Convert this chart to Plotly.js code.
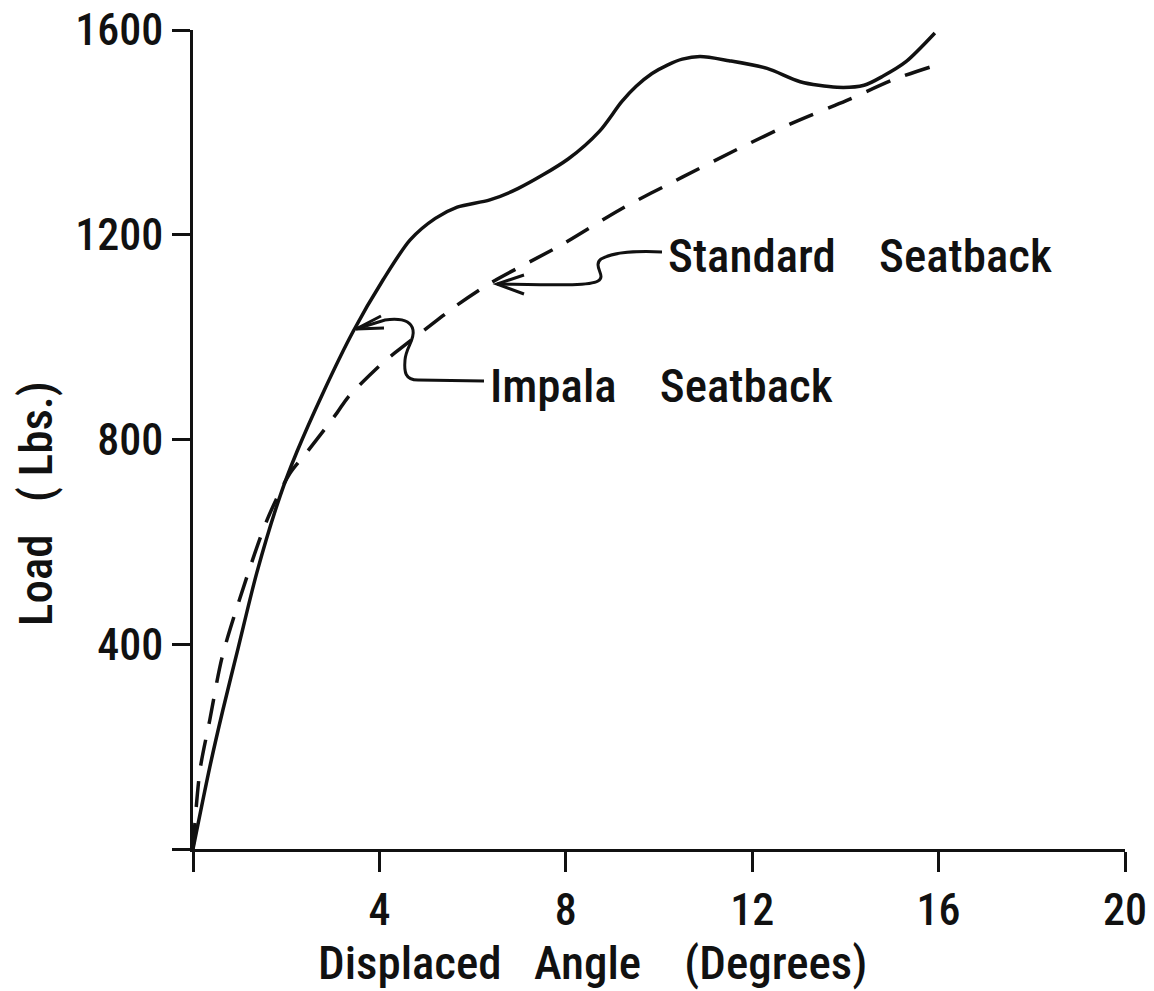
<!DOCTYPE html>
<html>
<head>
<meta charset="utf-8">
<script src="https://cdn.plot.ly/plotly-3.0.1.min.js"></script>
<style>html,body{margin:0;padding:0;background:#fff;}#chart{width:1154px;height:991px;}</style>
</head>
<body>
<div id="chart"></div>
<script>
// ---- Data ----
const angleImpala = [0, 0.36, 0.64, 0.97, 1.37, 1.87, 2.23, 2.79, 3.43, 4.08, 4.66, 5.2, 5.67, 6.37, 6.97, 8.05, 8.73, 9.2, 9.51, 9.85, 10.19, 10.5, 10.88, 11.5, 12.32, 13.03, 13.82, 14.4, 14.81, 15.3, 15.92];
const loadImpala  = [0, 160, 271, 393, 540, 690, 776, 891, 1010, 1112, 1190, 1232, 1254, 1268, 1290, 1348, 1403, 1460, 1490, 1515, 1532, 1543, 1548, 1540, 1525, 1499, 1488, 1492, 1510, 1538, 1594];

const angleStandard = [0, 0.15, 0.36, 0.62, 1.0, 1.59, 2.08, 2.45, 3.09, 3.33, 4.06, 4.33, 5.24, 5.58, 6.37, 7.9, 9.18, 10.49, 11.66, 12.86, 14.02, 15.06, 15.97];
const loadStandard  = [0, 154, 252, 373, 488, 643, 734, 776, 852, 883, 949, 969, 1033, 1057, 1105, 1180, 1250, 1312, 1366, 1418, 1462, 1504, 1532];

const xTickVals = [0, 4, 8, 12, 16, 20];
const xTickText = ['', '4', '8', '12', '16', '20'];
const yTickVals = [0, 400, 800, 1200, 1600];
const yTickText = ['', '400', '800', '1200', '1600'];

const seriesNames = ['Impala Seatback', 'Standard Seatback'];
const xTitle = 'Displaced\u00A0\u00A0\u00A0Angle\u00A0\u00A0\u00A0\u00A0(Degrees)';
const yTitle = 'Load\u00A0\u00A0\u00A0(\u00A0Lbs.)';

// ---- Layout helpers (pixel -> data / paper, for annotation placement only) ----
const W = 1154, H = 991;
const M = {l: 193, r: 29, t: 30, b: 142};
const X0 = M.l, X1 = W - M.r, Y0 = H - M.b, Y1 = M.t;
const xr = [0, 20], yr = [0, 1600];
const dx = p => xr[0] + (p - X0) / (X1 - X0) * (xr[1] - xr[0]);
const dy = p => yr[0] + (Y0 - p) / (Y0 - Y1) * (yr[1] - yr[0]);
const px = p => (p - X0) / (X1 - X0);
const py = p => (Y0 - p) / (Y0 - Y1);
function path(cmds) {
  return cmds.map(c => c[0] + ' ' + c.slice(1).map((v, i) => (i % 2 === 0 ? dx(v) : dy(v)).toFixed(4)).join(',')).join(' ');
}

const FONT = '"Roboto Condensed", "Liberation Sans Narrow", "Liberation Sans", Arial, sans-serif';
const INK = '#111';
const WEIGHT = 500;

const traces = [
  {x: angleImpala, y: loadImpala, name: seriesNames[0], mode: 'lines',
   line: {color: INK, width: 3.5, shape: 'spline', smoothing: 0.8}},
  {x: angleStandard, y: loadStandard, name: seriesNames[1], mode: 'lines',
   line: {color: INK, width: 3.5, dash: '26px,16px', shape: 'spline', smoothing: 0.8}}
];

const standardLeader = path([
  ['M', 662, 252], ['C', 640, 251, 615, 251, 601, 259], ['C', 592, 266, 607, 276, 598, 281],
  ['C', 590, 286, 560, 285, 497, 284]
]);
const standardHead = path([['M', 524, 275], ['L', 497, 284], ['L', 524, 294]]);
const impalaLeader = path([
  ['M', 484, 381], ['L', 418, 380], ['C', 405, 380, 404, 372, 405, 360], ['C', 406, 347, 415, 340, 413, 330],
  ['C', 411, 320, 400, 318, 385, 320], ['L', 356, 329]
]);
const impalaHead = path([['M', 381, 316], ['L', 356, 329], ['L', 384, 328]]);

const shapeLine = {color: INK, width: 3};
const labelFont = {family: FONT, size: 47, color: INK, weight: WEIGHT};
const tickFont = {family: FONT, size: 44, color: INK, weight: WEIGHT};
const layout = {
  width: W, height: H,
  margin: M,
  paper_bgcolor: '#fff', plot_bgcolor: '#fff',
  showlegend: false,
  font: {family: FONT, color: INK},
  xaxis: {
    range: xr, tickmode: 'array', tickvals: xTickVals, ticktext: xTickText,
    ticks: 'outside', ticklen: 20, tickwidth: 3, tickcolor: INK,
    showline: true, linewidth: 3, linecolor: INK,
    showgrid: false, zeroline: false,
    tickfont: tickFont
  },
  yaxis: {
    range: yr, tickmode: 'array', tickvals: yTickVals, ticktext: yTickText,
    ticks: 'outside', ticklen: 18, tickwidth: 3, tickcolor: INK,
    showline: true, linewidth: 3, linecolor: INK,
    showgrid: false, zeroline: false,
    tickfont: tickFont
  },
  shapes: [
    {type: 'path', xref: 'x', yref: 'y', path: standardLeader, line: shapeLine},
    {type: 'path', xref: 'x', yref: 'y', path: standardHead, line: shapeLine},
    {type: 'path', xref: 'x', yref: 'y', path: impalaLeader, line: shapeLine},
    {type: 'path', xref: 'x', yref: 'y', path: impalaHead, line: shapeLine}
  ],
  annotations: [
    {text: 'Standard\u00A0\u00A0\u00A0\u00A0Seatback', xref: 'paper', yref: 'paper', x: px(666), y: py(255),
     xanchor: 'left', yanchor: 'middle', showarrow: false, font: labelFont},
    {text: 'Impala\u00A0\u00A0\u00A0\u00A0Seatback', xref: 'paper', yref: 'paper', x: px(488), y: py(385),
     xanchor: 'left', yanchor: 'middle', showarrow: false, font: labelFont},
    {text: xTitle, xref: 'paper', yref: 'paper', x: px(592), y: py(962),
     xanchor: 'center', yanchor: 'middle', showarrow: false, font: labelFont},
    {text: yTitle, xref: 'paper', yref: 'paper', x: px(36), y: py(504), textangle: -90,
     xanchor: 'center', yanchor: 'middle', showarrow: false, font: labelFont}
  ]
};

Plotly.newPlot('chart', traces, layout, {displayModeBar: false, staticPlot: true});
</script>
</body>
</html>
